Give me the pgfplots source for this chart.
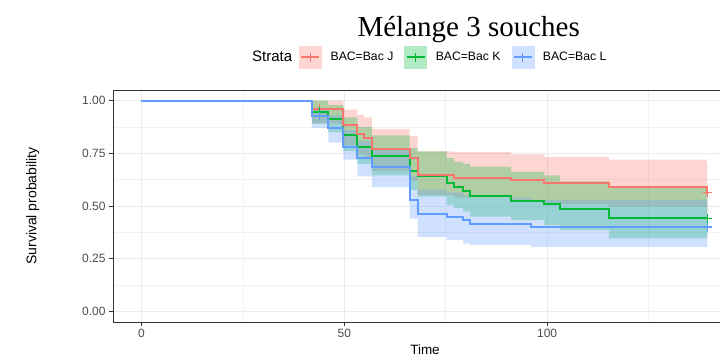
\documentclass[border=0pt]{standalone}
\usepackage{pgfplots}
\pgfplotsset{compat=1.18}
\usepackage{pgfplotstable}
\usepgfplotslibrary{fillbetween}
\usepackage{fontspec}
\setmainfont{Liberation Sans}
\newfontfamily\titlefont{Liberation Serif}
\definecolor{cJ}{HTML}{F8766D}
\definecolor{cK}{HTML}{00BA38}
\definecolor{cL}{HTML}{619CFF}
\definecolor{gridc}{HTML}{EBEBEB}
\definecolor{tickc}{HTML}{4D4D4D}
\definecolor{boxc}{HTML}{333333}

\pgfplotstableread{
t S lo hi
0 1 1 1
42 0.962 0.89 1.0
49.8 0.882 0.79 0.957
53.2 0.841 0.745 0.933
54.8 0.822 0.72 0.92
56.8 0.77 0.665 0.865
66.1 0.727 0.62 0.833
68.1 0.648 0.552 0.759
77.1 0.635 0.54 0.755
91.1 0.621 0.525 0.745
99.3 0.608 0.51 0.732
115.3 0.592 0.497 0.72
139.3 0.563 0.46 0.70
139.5 0.563 0.46 0.70
}\bacJ

\pgfplotstableread{
t S lo hi
0 1 1 1
42 0.946 0.89 1.0
46.1 0.913 0.85 0.98
49.8 0.838 0.76 0.92
53.2 0.782 0.70 0.875
56.8 0.735 0.645 0.835
66.1 0.668 0.575 0.775
68.1 0.64 0.545 0.759
75.2 0.608 0.505 0.727
77.1 0.589 0.49 0.71
79.3 0.573 0.473 0.70
81 0.549 0.45 0.687
91.1 0.525 0.433 0.663
99.3 0.51 0.41 0.645
103.2 0.484 0.386 0.617
115.3 0.441 0.346 0.592
139.5 0.441 0.346 0.592
}\bacK

\pgfplotstableread{
t S lo hi
0 1 1 1
42 0.925 0.87 0.957
46.1 0.87 0.80 0.93
49.8 0.782 0.72 0.86
53.2 0.727 0.64 0.81
56.8 0.687 0.59 0.775
66.1 0.529 0.44 0.64
68.1 0.46 0.354 0.576
75.2 0.449 0.338 0.565
79.3 0.433 0.322 0.55
81 0.414 0.315 0.54
96 0.40 0.306 0.529
139.5 0.40 0.306 0.529
}\bacL

\pgfplotstableread{
t S
43.9 0.962
139.5 0.563
}\cenJ
\pgfplotstableread{
t S
43.9 0.946
139.5 0.441
}\cenK
\pgfplotstableread{
t S
43.9 0.925
139.5 0.40
}\cenL

\begin{document}
\begin{tikzpicture}
\begin{axis}[
  at={(0pt,0pt)}, anchor=south west,
  scale only axis,
  width=607pt, height=232pt,
  xmin=-7, xmax=142.6, ymin=-0.05, ymax=1.05,
  axis x line*=box, axis y line*=left,
  xtick pos=bottom, ytick pos=left,
  axis line style={boxc, line width=0.8pt},
  tick align=outside,
  major tick length=4pt,
  tick style={boxc, line width=0.6pt},
  minor tick length=0pt,
  xtick={0,50,100}, minor xtick={25,75,125},
  ytick={0,0.25,0.5,0.75,1}, minor ytick={0.125,0.375,0.625,0.875},
  grid=both,
  major grid style={gridc, line width=0.8pt},
  minor grid style={gridc!70, line width=0.5pt},
  yticklabel style={/pgf/number format/.cd, fixed, fixed zerofill, precision=2},
  /pgf/number format/assume math mode=true,
  tick label style={font=\fontsize{12}{14}\selectfont, text=tickc},
  xlabel={Time}, ylabel={Survival probability},
  xlabel style={at={(axis description cs:0.514,-0.12)}, anchor=center, font=\fontsize{13.5}{16}\selectfont},
  ylabel style={at={(axis description cs:-0.132,0.5)}, anchor=center, font=\fontsize{14}{16}\selectfont},
  title={M\'elange 3 souches},
  title style={at={(axis description cs:0.586,1.203)}, anchor=base, font=\titlefont\fontsize{29}{34}\selectfont},
  legend columns=-1,
  legend style={at={(axis description cs:0.512,1.142)}, anchor=center, draw=none, fill=none,
    font=\fontsize{12.2}{14}\selectfont,
    /tikz/every even column/.append style={column sep=9pt},
    /tikz/every odd column/.append style={column sep=7pt}},
]
% survival lines
\addplot[const plot, cK, line width=2pt, forget plot] table[x=t,y=S] {\bacK};
\addplot[const plot, cJ, line width=2pt, forget plot] table[x=t,y=S] {\bacJ};
\addplot[const plot, cL, line width=2pt, forget plot] table[x=t,y=S] {\bacL};
% bands
\addplot[const plot, draw=none, name path=Jh, forget plot] table[x=t,y=hi] {\bacJ};
\addplot[const plot, draw=none, name path=Jl, forget plot] table[x=t,y=lo] {\bacJ};
\addplot[const plot, draw=none, name path=Kh, forget plot] table[x=t,y=hi] {\bacK};
\addplot[const plot, draw=none, name path=Kl, forget plot] table[x=t,y=lo] {\bacK};
\addplot[const plot, draw=none, name path=Lh, forget plot] table[x=t,y=hi] {\bacL};
\addplot[const plot, draw=none, name path=Ll, forget plot] table[x=t,y=lo] {\bacL};
\addplot[fill=cJ, fill opacity=0.3, draw=none, forget plot] fill between[of=Jh and Jl];
\addplot[fill=cK, fill opacity=0.3, draw=none, forget plot] fill between[of=Kh and Kl];
\addplot[fill=cL, fill opacity=0.3, draw=none, forget plot] fill between[of=Lh and Ll];
% censor marks
\addplot[only marks, mark=+, mark size=4.5pt, cJ, line width=1.2pt, forget plot] table[x=t,y=S] {\cenJ};
\addplot[only marks, mark=+, mark size=4.5pt, cK, line width=1.2pt, forget plot] table[x=t,y=S] {\cenK};
\addplot[only marks, mark=+, mark size=4.5pt, cL, line width=1.2pt, forget plot] table[x=t,y=S] {\cenL};
% legend
\addlegendimage{empty legend}
\addlegendentry{\hspace*{4pt}\fontsize{15}{18}\selectfont Strata\hspace*{-4pt}}
\addlegendimage{legend image code/.code={
  \fill[cJ!30] (0pt,-11pt) rectangle (22pt,11pt);
  \draw[cJ, line width=1.5pt] (2pt,0pt) -- (20pt,0pt);
  \draw[cJ, line width=1.2pt] (11pt,-4.5pt) -- (11pt,4.5pt);}}
\addlegendentry{BAC=Bac J}
\addlegendimage{legend image code/.code={
  \fill[cK!30] (0pt,-11pt) rectangle (22pt,11pt);
  \draw[cK, line width=1.5pt] (2pt,0pt) -- (20pt,0pt);
  \draw[cK, line width=1.2pt] (11pt,-4.5pt) -- (11pt,4.5pt);}}
\addlegendentry{BAC=Bac K}
\addlegendimage{legend image code/.code={
  \fill[cL!30] (0pt,-11pt) rectangle (22pt,11pt);
  \draw[cL, line width=1.5pt] (2pt,0pt) -- (20pt,0pt);
  \draw[cL, line width=1.2pt] (11pt,-4.5pt) -- (11pt,4.5pt);}}
\addlegendentry{BAC=Bac L}
\end{axis}
\pgfresetboundingbox
\useasboundingbox (-113pt,-35pt) rectangle (607pt,322pt);
\end{tikzpicture}
\end{document}
